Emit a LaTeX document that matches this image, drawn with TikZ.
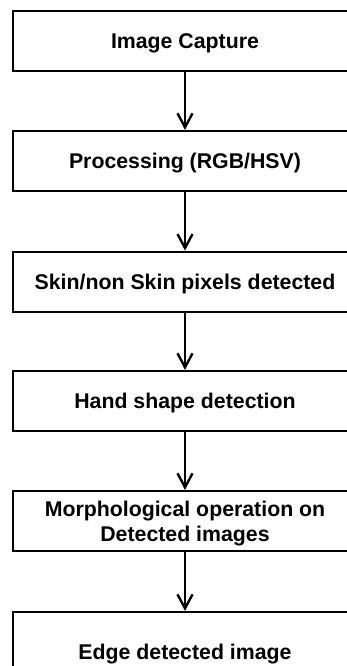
\documentclass[tikz,border=0pt]{standalone}
\usepackage{fontspec}
\setmainfont{Liberation Sans}
\usetikzlibrary{arrows.meta}
\begin{document}
\begin{tikzpicture}[x=1pt,y=-1pt,
  stepbox/.style={draw=black,line width=2.2pt,minimum width=344pt,minimum height=60pt,
    inner sep=0pt,align=center,text depth=0pt,font=\fontsize{21.3}{25}\selectfont\bfseries},
  flow/.style={line width=1.7pt,-{Straight Barb[length=14pt,width=15pt,line width=2.4pt]}}]
\useasboundingbox (0,0) rectangle (347,666);
\begin{scope}
\clip (0,0) rectangle (347,666);
\node[stepbox] (b1) at (185,40.7) {Image Capture};
\node[stepbox] (b2) at (185,161) {Processing (RGB/HSV)};
\node[stepbox] (b3) at (185,281.7) {Skin/non Skin pixels detected};
\node[stepbox] (b4) at (185,401) {Hand shape detection};
\node[stepbox] (b5) at (185,521) {Morphological operation on\\Detected images};
\node[stepbox,minimum height=80pt] (b6) at (185,652) {Edge detected image};
\draw[flow] (b1.south) -- (b2.north);
\draw[flow] (b2.south) -- (b3.north);
\draw[flow] (b3.south) -- (b4.north);
\draw[flow] (b4.south) -- (b5.north);
\draw[flow] (b5.south) -- (b6.north);
\end{scope}
\end{tikzpicture}
\end{document}
